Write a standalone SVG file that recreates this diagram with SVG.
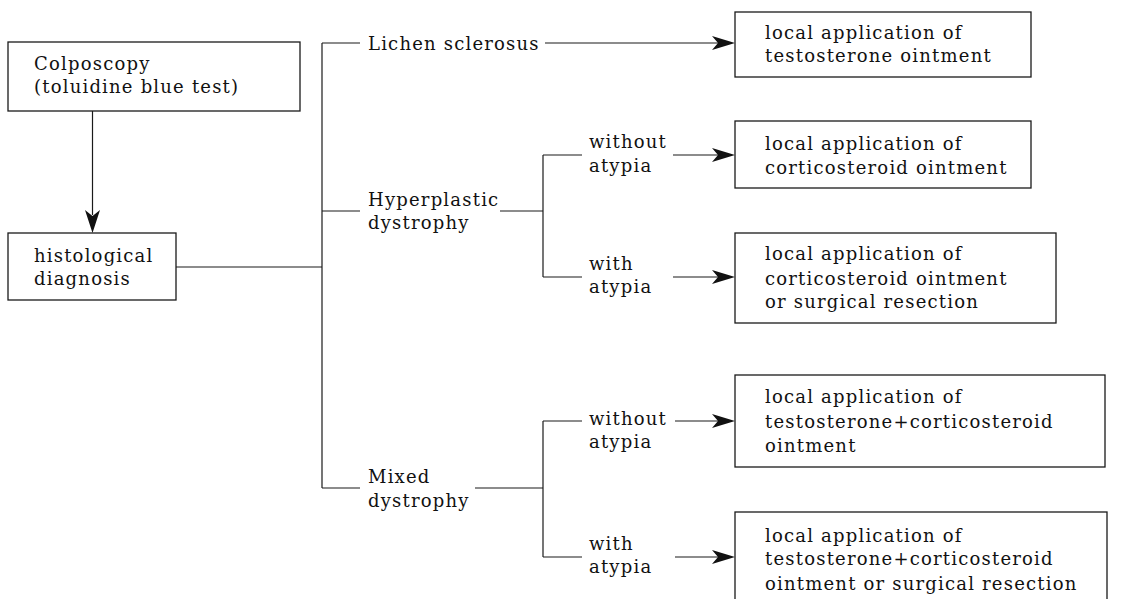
<svg xmlns="http://www.w3.org/2000/svg" width="1121" height="599" viewBox="0 0 1121 599">
<style>
.box{fill:#fff;stroke:#1a1a1a;stroke-width:1.3}
.t{font-family:"DejaVu Serif","Liberation Serif",serif;font-size:18px;letter-spacing:1.2px;fill:#111}
.c{fill:none;stroke:#1a1a1a;stroke-width:1.2}
.ah{fill:#111}
</style>
<rect width="1121" height="599" fill="#fff"/>
<g id="connectors">
<line class="c" x1="92.5" y1="111" x2="92.5" y2="215"/>
<path class="ah" d="M85,210 L92.5,233 L100,210 L92.5,216 Z"/>
<line class="c" x1="176" y1="267" x2="322" y2="267"/>
<line class="c" x1="322" y1="43" x2="322" y2="488"/>
<line class="c" x1="322" y1="43" x2="360" y2="43"/>
<line class="c" x1="545" y1="43" x2="718" y2="43"/>
<path class="ah" d="M712,36 L735,43 L712,50 L718,43 Z"/>
<line class="c" x1="322" y1="211" x2="360" y2="211"/>
<line class="c" x1="500" y1="211" x2="543" y2="211"/>
<line class="c" x1="543" y1="155" x2="543" y2="277"/>
<line class="c" x1="543" y1="155" x2="582" y2="155"/>
<line class="c" x1="543" y1="277" x2="582" y2="277"/>
<line class="c" x1="673" y1="155" x2="718" y2="155"/>
<path class="ah" d="M712,148 L735,155 L712,162 L718,155 Z"/>
<line class="c" x1="673" y1="277" x2="718" y2="277"/>
<path class="ah" d="M712,270 L735,277 L712,284 L718,277 Z"/>
<line class="c" x1="322" y1="488" x2="360" y2="488"/>
<line class="c" x1="475" y1="488" x2="543" y2="488"/>
<line class="c" x1="543" y1="421" x2="543" y2="557"/>
<line class="c" x1="543" y1="421" x2="582" y2="421"/>
<line class="c" x1="543" y1="557" x2="582" y2="557"/>
<line class="c" x1="675" y1="421" x2="718" y2="421"/>
<path class="ah" d="M712,414 L735,421 L712,428 L718,421 Z"/>
<line class="c" x1="675" y1="557" x2="718" y2="557"/>
<path class="ah" d="M712,550 L735,557 L712,564 L718,557 Z"/>
</g>
<g id="colposcopy">
<rect class="box" x="8" y="42" width="292" height="69"/>
<text class="t" x="34" y="70">Colposcopy</text>
<text class="t" x="34" y="93">(toluidine blue test)</text>
</g>
<g id="histological">
<rect class="box" x="8" y="233" width="168" height="67"/>
<text class="t" x="34" y="262">histological</text>
<text class="t" x="34" y="285">diagnosis</text>
</g>
<g id="lichen">
<text class="t" x="368" y="50">Lichen sclerosus</text>
</g>
<g id="hyperplastic">
<text class="t" x="368" y="206">Hyperplastic</text>
<text class="t" x="368" y="229">dystrophy</text>
</g>
<g id="hyp-without">
<text class="t" x="589" y="148">without</text>
<text class="t" x="589" y="172">atypia</text>
</g>
<g id="hyp-with">
<text class="t" x="589" y="270">with</text>
<text class="t" x="589" y="293">atypia</text>
</g>
<g id="mixed">
<text class="t" x="368" y="483">Mixed</text>
<text class="t" x="368" y="507">dystrophy</text>
</g>
<g id="mix-without">
<text class="t" x="589" y="425">without</text>
<text class="t" x="589" y="448">atypia</text>
</g>
<g id="mix-with">
<text class="t" x="589" y="550">with</text>
<text class="t" x="589" y="573">atypia</text>
</g>
<g id="treat1">
<rect class="box" x="735" y="12" width="296" height="65"/>
<text class="t" x="765" y="39">local application of</text>
<text class="t" x="765" y="62">testosterone ointment</text>
</g>
<g id="treat2">
<rect class="box" x="735" y="121" width="296" height="67"/>
<text class="t" x="765" y="150">local application of</text>
<text class="t" x="765" y="174">corticosteroid ointment</text>
</g>
<g id="treat3">
<rect class="box" x="735" y="233" width="321" height="90"/>
<text class="t" x="765" y="260">local application of</text>
<text class="t" x="765" y="285">corticosteroid ointment</text>
<text class="t" x="765" y="308">or surgical resection</text>
</g>
<g id="treat4">
<rect class="box" x="735" y="375" width="370" height="92"/>
<text class="t" x="765" y="403">local application of</text>
<text class="t" x="765" y="428">testosterone+corticosteroid</text>
<text class="t" x="765" y="452">ointment</text>
</g>
<g id="treat5">
<rect class="box" x="735" y="512" width="372" height="100"/>
<text class="t" x="765" y="542">local application of</text>
<text class="t" x="765" y="565">testosterone+corticosteroid</text>
<text class="t" x="765" y="590">ointment or surgical resection</text>
</g>
</svg>
